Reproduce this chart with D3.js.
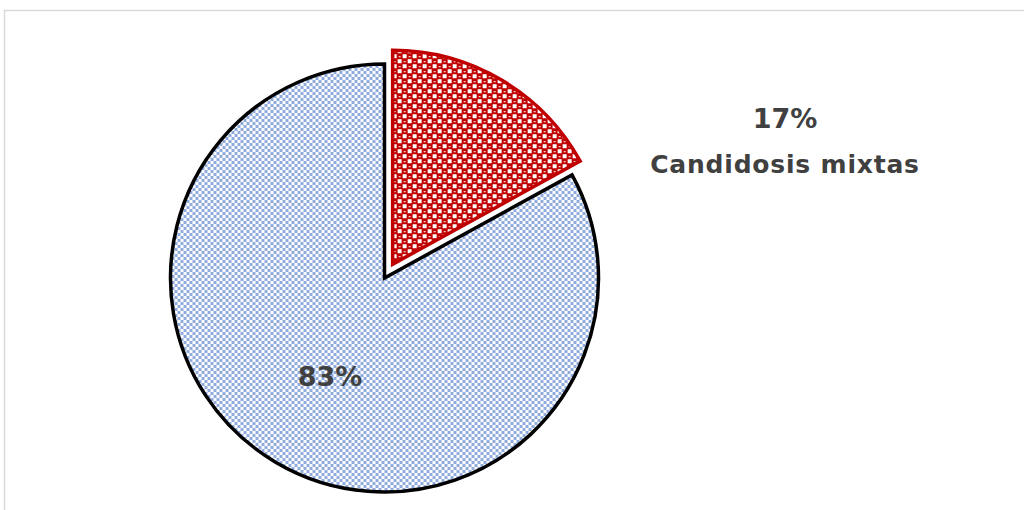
<!DOCTYPE html>
<html>
<head>
<meta charset="utf-8">
<script src="https://cdn.jsdelivr.net/npm/d3@7"></script>
<style>
  body { margin: 0; background: #fff; }
  svg { display: block; }
</style>
</head>
<body>
<div id="container"></div>
<script>
/* CONSTANTS AND GLOBALS */
const width = 1024;
const height = 510;

// data
const categories = ["Candidosis mixtas", ""];
const values = [17, 83];
const labels = ["17%", "83%"];

const cx = 384.5, cy = 278, radius = 214;
const explode = 16;

const svg = d3.select("#container")
  .append("svg")
  .attr("width", width)
  .attr("height", height);

// PATTERNS
const defs = svg.append("defs");

const blue = defs.append("pattern")
  .attr("id", "blueCheck")
  .attr("patternUnits", "userSpaceOnUse")
  .attr("width", 6).attr("height", 6);
blue.append("rect").attr("width", 6).attr("height", 6).attr("fill", "#ffffff");
blue.append("rect").attr("width", 3).attr("height", 3).attr("fill", "#8faadc");
blue.append("rect").attr("x", 3).attr("y", 3).attr("width", 3).attr("height", 3).attr("fill", "#8faadc");

const red = defs.append("pattern")
  .attr("id", "redCheck")
  .attr("patternUnits", "userSpaceOnUse")
  .attr("width", 10).attr("height", 10);
red.append("rect").attr("width", 10).attr("height", 10).attr("fill", "#c00000");
red.append("rect").attr("x", 0).attr("y", 0).attr("width", 4).attr("height", 4).attr("fill", "#ffffff");
red.append("rect").attr("x", 5).attr("y", 5).attr("width", 4).attr("height", 4).attr("fill", "#ffffff");
red.append("rect").attr("x", 6).attr("y", 2).attr("width", 2).attr("height", 1).attr("fill", "#ffffff");
red.append("rect").attr("x", 1).attr("y", 7).attr("width", 2).attr("height", 1).attr("fill", "#ffffff");

// chart border
svg.append("rect")
  .attr("x", 4.5).attr("y", 10.5)
  .attr("width", 1040).attr("height", 600)
  .attr("fill", "none")
  .attr("stroke", "#d9d9d9")
  .attr("stroke-width", 1.5);

// PIE
const pie = d3.pie().sort(null).value(d => d);
const arcs = pie(values);
const arc = d3.arc().innerRadius(0).outerRadius(radius);

const g = svg.append("g").attr("transform", `translate(${cx},${cy})`);

// blue slice first, red slice on top
g.append("path")
  .attr("d", arc(arcs[1]))
  .attr("fill", "url(#blueCheck)")
  .attr("stroke", "#000")
  .attr("stroke-width", 3.5)
  .attr("stroke-linejoin", "miter");

const mid = (arcs[0].startAngle + arcs[0].endAngle) / 2;
g.append("path")
  .attr("transform", `translate(${Math.sin(mid) * explode},${-Math.cos(mid) * explode})`)
  .attr("d", arc(arcs[0]))
  .attr("fill", "url(#redCheck)")
  .attr("stroke", "#c00000")
  .attr("stroke-width", 3.5);

// LABELS
const font = "'DejaVu Sans', sans-serif";

svg.append("text")
  .attr("x", 330).attr("y", 386)
  .attr("text-anchor", "middle")
  .attr("font-family", font)
  .attr("font-weight", "bold")
  .attr("font-size", 27)
  .attr("fill", "#404040")
  .text(labels[1]);

svg.append("text")
  .attr("x", 785).attr("y", 128)
  .attr("text-anchor", "middle")
  .attr("font-family", font)
  .attr("font-weight", "bold")
  .attr("font-size", 27)
  .attr("fill", "#404040")
  .text(labels[0]);

svg.append("text")
  .attr("x", 785).attr("y", 173)
  .attr("text-anchor", "middle")
  .attr("font-family", font)
  .attr("font-weight", "bold")
  .attr("font-size", 25)
  .attr("letter-spacing", 0.8)
  .attr("fill", "#404040")
  .text(categories[0]);
</script>
</body>
</html>
